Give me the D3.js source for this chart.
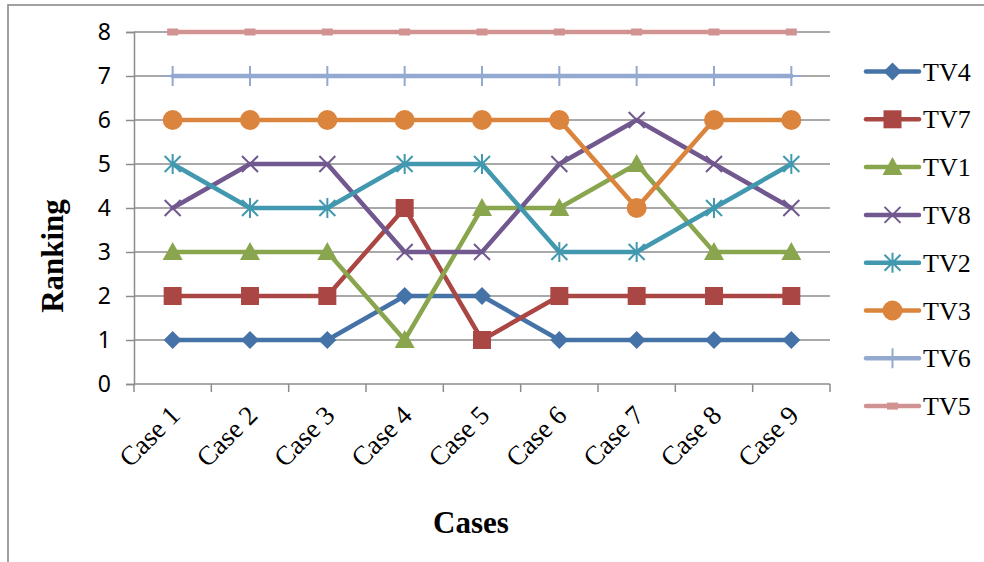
<!DOCTYPE html>
<html>
<head>
<meta charset="utf-8">
<script src="https://cdn.jsdelivr.net/npm/d3@7"></script>
<style>
  html, body { margin: 0; padding: 0; background: #fff; }
  svg { display: block; }
  .serif { font-family: "Liberation Serif", "Times New Roman", Times, "DejaVu Serif", serif; }
  .sans { font-family: "Noto Sans", "Liberation Sans", Arial, sans-serif; }
</style>
</head>
<body>
<svg id="chart" width="984" height="562"></svg>
<script>
// Categories and tick labels
const cases = ["Case 1", "Case 2", "Case 3", "Case 4", "Case 5", "Case 6", "Case 7", "Case 8", "Case 9"];
const yTicks = [0, 1, 2, 3, 4, 5, 6, 7, 8];

// Ranking of each TV per case
const seriesNames = ["TV4", "TV7", "TV1", "TV8", "TV2", "TV3", "TV6", "TV5"];
const tv4 = [1, 1, 1, 2, 2, 1, 1, 1, 1];
const tv7 = [2, 2, 2, 4, 1, 2, 2, 2, 2];
const tv1 = [3, 3, 3, 1, 4, 4, 5, 3, 3];
const tv8 = [4, 5, 5, 3, 3, 5, 6, 5, 4];
const tv2 = [5, 4, 4, 5, 5, 3, 3, 4, 5];
const tv3 = [6, 6, 6, 6, 6, 6, 4, 6, 6];
const tv6 = [7, 7, 7, 7, 7, 7, 7, 7, 7];
const tv5 = [8, 8, 8, 8, 8, 8, 8, 8, 8];
const seriesColors = ["#4572A7", "#AA4643", "#89A54E", "#71588F", "#4198AF", "#DB843D", "#93A9CF", "#D19392"];
const seriesMarkers = ["diamond", "square", "triangle", "x", "star", "circle", "plus", "dash"];

const series = seriesNames.map((name, i) => ({
  name,
  values: [tv4, tv7, tv1, tv8, tv2, tv3, tv6, tv5][i],
  color: seriesColors[i],
  marker: seriesMarkers[i]
}));

const svg = d3.select("#chart");
const plot = { left: 134, right: 830, top: 32, bottom: 384 };

const x = d3.scaleBand().domain(cases).range([plot.left, plot.right]);
const y = d3.scaleLinear().domain([0, 8]).range([plot.bottom, plot.top]);
const gridColor = "#8c8c8c";

// Outer frame
svg.append("rect")
  .attr("x", 8).attr("y", 5).attr("width", 1100).attr("height", 700)
  .attr("fill", "none").attr("stroke", "#8a8a8a").attr("stroke-width", 1.6);

// Horizontal gridlines
svg.append("g").selectAll("line").data(yTicks.filter(d => d > 0)).join("line")
  .attr("x1", plot.left).attr("x2", plot.right)
  .attr("y1", d => y(d)).attr("y2", d => y(d))
  .attr("stroke", gridColor).attr("stroke-width", 1.5);

// Y axis
const yAxis = svg.append("g")
  .attr("transform", `translate(${plot.left},0)`)
  .call(d3.axisLeft(y).tickValues(yTicks).tickSize(8).tickPadding(15).tickFormat(d3.format("d")));
yAxis.attr("font-family", null).attr("font-size", null);
yAxis.select(".domain").attr("stroke", gridColor).attr("stroke-width", 1.5);
yAxis.selectAll(".tick line").attr("stroke", gridColor).attr("stroke-width", 1.5);
yAxis.selectAll(".tick text")
  .attr("class", "sans")
  .style("font-size", "23px").attr("fill", "#000");

// X axis: ticks on category boundaries
const xAxisG = svg.append("g");
xAxisG.append("line")
  .attr("x1", plot.left).attr("x2", plot.right)
  .attr("y1", plot.bottom).attr("y2", plot.bottom)
  .attr("stroke", gridColor).attr("stroke-width", 1.5);
const boundaries = cases.map(c => x(c)).concat([x(cases[cases.length - 1]) + x.bandwidth()]);
xAxisG.selectAll("line.tk").data(boundaries).join("line")
  .attr("class", "tk")
  .attr("x1", d => d).attr("x2", d => d)
  .attr("y1", plot.bottom).attr("y2", plot.bottom + 8)
  .attr("stroke", gridColor).attr("stroke-width", 1.5);
xAxisG.selectAll("text").data(cases).join("text")
  .attr("class", "serif")
  .attr("transform", d => `translate(${x(d) + x.bandwidth() / 2 + 9},${plot.bottom + 33}) rotate(-45)`)
  .attr("text-anchor", "end")
  .style("font-size", "27px").attr("fill", "#000")
  .text(d => d);

// Axis titles
svg.append("text")
  .attr("class", "serif")
  .attr("x", 471).attr("y", 533)
  .attr("text-anchor", "middle")
  .style("font-weight", "bold").style("font-size", "31px")
  .text("Cases");
svg.append("text")
  .attr("class", "serif")
  .attr("transform", "translate(63,256) rotate(-90)")
  .attr("text-anchor", "middle")
  .style("font-weight", "bold").style("font-size", "31px")
  .text("Ranking");

// Marker drawing
function drawMarker(g, type, color, cx, cy) {
  switch (type) {
    case "diamond":
      g.append("path").attr("d", `M${cx},${cy - 9}L${cx + 9},${cy}L${cx},${cy + 9}L${cx - 9},${cy}Z`)
        .attr("fill", color); break;
    case "square":
      g.append("rect").attr("x", cx - 9).attr("y", cy - 9).attr("width", 18).attr("height", 18)
        .attr("fill", color); break;
    case "triangle":
      g.append("path").attr("d", `M${cx},${cy - 10}L${cx + 10},${cy + 8}L${cx - 10},${cy + 8}Z`)
        .attr("fill", color); break;
    case "circle":
      g.append("circle").attr("cx", cx).attr("cy", cy).attr("r", 10).attr("fill", color); break;
    case "x":
      g.append("path").attr("d", `M${cx - 8},${cy - 8}L${cx + 8},${cy + 8}M${cx - 8},${cy + 8}L${cx + 8},${cy - 8}`)
        .attr("stroke", color).attr("stroke-width", 2); break;
    case "star":
      g.append("path").attr("d", `M${cx - 8},${cy - 8}L${cx + 8},${cy + 8}M${cx - 8},${cy + 8}L${cx + 8},${cy - 8}M${cx},${cy - 10}L${cx},${cy + 10}`)
        .attr("stroke", color).attr("stroke-width", 2); break;
    case "plus":
      g.append("path").attr("d", `M${cx - 10},${cy}L${cx + 10},${cy}M${cx},${cy - 10}L${cx},${cy + 10}`)
        .attr("stroke", color).attr("stroke-width", 2); break;
    case "dash":
      g.append("rect").attr("x", cx - 5.5).attr("y", cy - 3.5).attr("width", 11).attr("height", 7)
        .attr("fill", color); break;
  }
}

// Series lines and markers
const line = d3.line()
  .x((d, i) => x(cases[i]) + x.bandwidth() / 2)
  .y(d => y(d));

series.forEach(s => {
  const g = svg.append("g");
  g.append("path").datum(s.values)
    .attr("d", line)
    .attr("fill", "none").attr("stroke", s.color)
    .attr("stroke-width", 4.5).attr("stroke-linejoin", "round").attr("stroke-linecap", "round");
  s.values.forEach((v, i) => drawMarker(g, s.marker, s.color, x(cases[i]) + x.bandwidth() / 2, y(v)));
});

// Legend
const legend = svg.append("g");
series.forEach((s, i) => {
  const ly = 71.5 + i * 47.8;
  const g = legend.append("g");
  g.append("line").attr("x1", 866).attr("x2", 919).attr("y1", ly).attr("y2", ly)
    .attr("stroke", s.color).attr("stroke-width", 4.5).attr("stroke-linecap", "round");
  drawMarker(g, s.marker, s.color, 892.5, ly);
  g.append("text").attr("class", "serif")
    .attr("x", 923).attr("y", ly).attr("dy", "0.35em")
    .style("font-size", "26px").attr("fill", "#000")
    .text(s.name);
});
</script>
</body>
</html>
